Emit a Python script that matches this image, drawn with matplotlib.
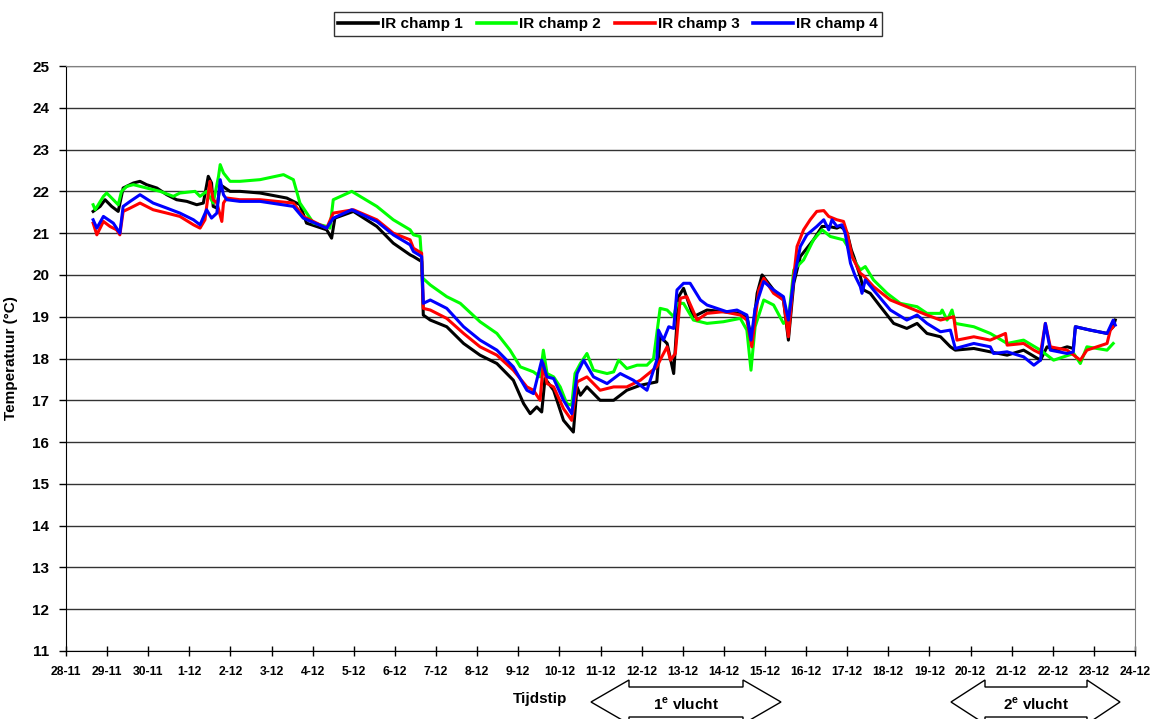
import numpy as np
import matplotlib
matplotlib.use('Agg')
import matplotlib.pyplot as plt
from matplotlib.patches import Polygon

plt.rcParams['font.family'] = ['Liberation Sans', 'DejaVu Sans']
plt.rcParams['font.weight'] = 'bold'
plt.rcParams['mathtext.fontset'] = 'custom'
plt.rcParams['mathtext.bf'] = 'Liberation Sans:bold'
plt.rcParams['mathtext.rm'] = 'Liberation Sans:bold'

# x = days after 28-11 00:00
day_labels = ['28-11', '29-11', '30-11', '1-12', '2-12', '3-12', '4-12', '5-12', '6-12',
              '7-12', '8-12', '9-12', '10-12', '11-12', '12-12', '13-12', '14-12', '15-12',
              '16-12', '17-12', '18-12', '19-12', '20-12', '21-12', '22-12', '23-12', '24-12']

# IR champ 1
t1 = [0.66, 0.83, 0.95, 1.11, 1.27, 1.39, 1.64, 1.80, 1.96, 2.21, 2.45, 2.69, 2.94, 3.18, 3.34,
      3.46, 3.54, 3.58, 3.67, 3.75, 3.99, 4.23, 4.72, 5.37, 5.69, 5.85, 6.34, 6.46, 6.54, 6.99,
      7.56, 7.96, 8.37, 8.45, 8.65, 8.69, 8.86, 9.26, 9.67, 10.07, 10.48, 10.88, 11.13, 11.29,
      11.45, 11.57, 11.65, 11.86, 12.10, 12.34, 12.43, 12.51, 12.67, 12.99, 13.32, 13.64, 13.97,
      14.37, 14.45, 14.62, 14.78, 14.90, 15.02, 15.26, 15.59, 15.99, 16.40, 16.56, 16.68, 16.81,
      16.93, 17.21, 17.45, 17.57, 17.70, 17.86, 18.18, 18.39, 18.55, 18.75, 18.83, 18.95, 19.00,
      19.10, 19.16, 19.32, 19.40, 19.56, 19.81, 20.13, 20.45, 20.70, 20.94, 21.27, 21.51, 21.63,
      22.08, 22.48, 22.89, 23.29, 23.70, 23.86, 24.10, 24.35, 24.50, 24.55, 24.91, 25.32, 25.47,
      25.52]
c1 = [21.52, 21.64, 21.80, 21.64, 21.52, 22.08, 22.20, 22.24, 22.16, 22.08, 21.92, 21.80, 21.76,
      21.68, 21.72, 22.36, 22.20, 21.64, 21.60, 22.16, 22.00, 22.00, 21.96, 21.84, 21.68, 21.24,
      21.08, 20.88, 21.36, 21.52, 21.16, 20.76, 20.48, 20.44, 20.32, 19.04, 18.92, 18.76, 18.36,
      18.08, 17.88, 17.48, 16.92, 16.68, 16.84, 16.72, 17.52, 17.24, 16.52, 16.24, 17.32, 17.12,
      17.32, 17.00, 17.00, 17.24, 17.36, 17.44, 18.52, 18.36, 17.64, 19.48, 19.68, 19.00, 19.16,
      19.12, 19.08, 19.00, 18.44, 19.56, 20.00, 19.64, 19.40, 18.44, 19.80, 20.44, 20.84, 21.16,
      21.16, 21.12, 21.16, 21.08, 21.00, 20.60, 20.44, 19.96, 19.64, 19.56, 19.24, 18.84, 18.72,
      18.84, 18.60, 18.52, 18.28, 18.20, 18.24, 18.16, 18.08, 18.20, 17.96, 18.28, 18.20, 18.28,
      18.24, 18.76, 18.68, 18.60, 18.76, 18.92]

# IR champ 2
t2 = [0.66, 0.71, 0.91, 0.99, 1.15, 1.27, 1.35, 1.48, 1.64, 1.96, 2.29, 2.61, 2.77, 3.14, 3.26,
      3.42, 3.58, 3.71, 3.75, 3.83, 3.99, 4.23, 4.72, 5.29, 5.53, 5.69, 6.02, 6.34, 6.42, 6.50,
      6.95, 7.56, 7.96, 8.37, 8.45, 8.61, 8.68, 8.86, 9.26, 9.59, 10.07, 10.48, 10.80, 11.05,
      11.37, 11.53, 11.61, 11.70, 11.86, 12.02, 12.18, 12.30, 12.38, 12.51, 12.67, 12.83, 13.16,
      13.32, 13.44, 13.64, 13.89, 14.13, 14.29, 14.45, 14.62, 14.78, 14.86, 15.02, 15.26, 15.59,
      15.99, 16.40, 16.56, 16.66, 16.76, 16.97, 17.21, 17.45, 17.57, 17.70, 17.94, 18.18, 18.39,
      18.59, 18.75, 18.91, 19.00, 19.16, 19.32, 19.44, 19.64, 19.97, 20.29, 20.70, 20.94, 21.27,
      21.31, 21.43, 21.55, 21.63, 22.08, 22.48, 22.89, 23.29, 23.70, 24.02, 24.51, 24.67, 24.83,
      25.32, 25.47]
c2 = [21.68, 21.56, 21.88, 21.96, 21.80, 21.68, 22.00, 22.12, 22.16, 22.08, 22.00, 21.88, 21.96,
      22.00, 21.88, 22.00, 21.72, 22.36, 22.64, 22.44, 22.24, 22.24, 22.28, 22.40, 22.28, 21.72,
      21.24, 21.16, 21.12, 21.80, 22.00, 21.64, 21.32, 21.08, 20.96, 20.92, 19.92, 19.76, 19.48,
      19.32, 18.88, 18.60, 18.20, 17.80, 17.68, 17.56, 18.20, 17.64, 17.56, 17.32, 16.92, 16.88,
      17.64, 17.88, 18.12, 17.72, 17.64, 17.68, 17.96, 17.76, 17.84, 17.84, 18.00, 19.20, 19.16,
      19.00, 19.32, 19.32, 18.92, 18.84, 18.88, 18.96, 18.68, 17.72, 18.76, 19.40, 19.28, 18.84,
      18.92, 20.12, 20.36, 20.84, 21.08, 20.92, 20.88, 20.84, 20.70, 20.36, 20.12, 20.20, 19.88,
      19.56, 19.32, 19.24, 19.08, 19.08, 19.16, 18.92, 19.16, 18.84, 18.76, 18.60, 18.36, 18.44,
      18.20, 17.96, 18.12, 17.88, 18.28, 18.20, 18.36]

# IR champ 3
t3 = [0.66, 0.75, 0.91, 1.07, 1.23, 1.31, 1.39, 1.56, 1.80, 2.12, 2.45, 2.77, 3.10, 3.26, 3.38,
      3.50, 3.58, 3.67, 3.79, 3.83, 3.91, 4.23, 4.72, 5.53, 5.77, 6.34, 6.50, 6.99, 7.56, 7.96,
      8.37, 8.45, 8.65, 8.69, 8.86, 9.26, 9.67, 10.07, 10.48, 10.88, 11.21, 11.37, 11.53, 11.61,
      11.70, 11.86, 12.10, 12.30, 12.43, 12.67, 12.99, 13.32, 13.64, 13.97, 14.37, 14.49, 14.62,
      14.70, 14.82, 14.94, 15.10, 15.35, 15.59, 15.99, 16.40, 16.56, 16.68, 16.85, 16.97, 17.21,
      17.45, 17.57, 17.70, 17.78, 17.94, 18.10, 18.26, 18.43, 18.55, 18.75, 18.91, 19.00, 19.12,
      19.32, 19.40, 19.64, 20.05, 20.45, 20.94, 21.27, 21.59, 21.67, 22.08, 22.48, 22.85, 22.89,
      23.29, 23.54, 23.70, 23.82, 23.94, 24.35, 24.67, 24.83, 25.32, 25.40, 25.47]
c3 = [21.24, 20.96, 21.28, 21.16, 21.08, 20.96, 21.52, 21.60, 21.72, 21.56, 21.48, 21.40, 21.20,
      21.12, 21.32, 22.24, 21.80, 21.72, 21.28, 21.72, 21.84, 21.80, 21.80, 21.72, 21.40, 21.12,
      21.48, 21.56, 21.32, 21.00, 20.84, 20.64, 20.52, 19.20, 19.16, 18.96, 18.60, 18.28, 18.08,
      17.72, 17.32, 17.24, 17.00, 17.88, 17.40, 17.32, 16.80, 16.52, 17.44, 17.56, 17.24, 17.32,
      17.32, 17.48, 17.80, 18.04, 18.28, 17.96, 18.12, 19.44, 19.48, 18.92, 19.08, 19.12, 19.04,
      18.92, 18.28, 19.64, 19.92, 19.56, 19.40, 18.52, 19.96, 20.68, 21.08, 21.32, 21.52, 21.54,
      21.40, 21.32, 21.28, 21.00, 20.44, 20.04, 19.98, 19.72, 19.40, 19.24, 19.04, 18.92, 19.00,
      18.44, 18.52, 18.44, 18.60, 18.32, 18.36, 18.20, 18.12, 18.84, 18.28, 18.20, 17.96, 18.20,
      18.36, 18.68, 18.76]

# IR champ 4
t4 = [0.66, 0.75, 0.91, 1.15, 1.31, 1.39, 1.56, 1.80, 2.12, 2.45, 2.77, 3.10, 3.26, 3.42, 3.54,
      3.67, 3.75, 3.83, 3.91, 4.23, 4.72, 5.53, 5.77, 6.34, 6.50, 6.95, 7.56, 7.96, 8.37, 8.45,
      8.65, 8.69, 8.86, 9.26, 9.67, 10.07, 10.48, 10.88, 11.21, 11.37, 11.57, 11.70, 11.86, 12.10,
      12.30, 12.43, 12.59, 12.83, 13.16, 13.48, 13.80, 14.13, 14.37, 14.41, 14.53, 14.66, 14.78,
      14.86, 15.02, 15.18, 15.43, 15.59, 16.07, 16.32, 16.56, 16.66, 16.76, 16.97, 17.21, 17.45,
      17.57, 17.70, 17.86, 18.02, 18.26, 18.43, 18.55, 18.63, 18.75, 18.87, 18.95, 19.08, 19.20,
      19.32, 19.36, 19.44, 19.64, 20.05, 20.45, 20.70, 20.94, 21.27, 21.51, 21.63, 22.08, 22.48,
      22.56, 22.89, 23.29, 23.54, 23.70, 23.82, 23.94, 24.35, 24.50, 24.55, 24.91, 25.32, 25.47,
      25.52]
c4 = [21.32, 21.12, 21.40, 21.24, 21.00, 21.64, 21.76, 21.92, 21.72, 21.60, 21.48, 21.32, 21.20,
      21.56, 21.36, 21.48, 22.28, 21.92, 21.80, 21.76, 21.76, 21.64, 21.36, 21.12, 21.36, 21.56,
      21.28, 20.96, 20.72, 20.56, 20.44, 19.32, 19.40, 19.20, 18.76, 18.44, 18.20, 17.80, 17.24,
      17.16, 17.96, 17.56, 17.52, 17.00, 16.68, 17.64, 17.96, 17.56, 17.40, 17.64, 17.48, 17.24,
      17.96, 18.68, 18.44, 18.76, 18.72, 19.64, 19.80, 19.80, 19.40, 19.28, 19.12, 19.16, 19.04,
      18.44, 19.20, 19.84, 19.64, 19.48, 18.92, 19.88, 20.68, 20.96, 21.16, 21.32, 21.08, 21.32,
      21.16, 21.20, 21.00, 20.28, 19.96, 19.72, 19.56, 19.88, 19.64, 19.16, 18.92, 19.04, 18.84,
      18.64, 18.68, 18.24, 18.36, 18.28, 18.12, 18.16, 18.04, 17.84, 17.96, 18.84, 18.20, 18.12,
      18.16, 18.76, 18.68, 18.60, 18.92, 18.80]

series = [('IR champ 1', t1, c1, '#000000'),
          ('IR champ 2', t2, c2, '#00ff00'),
          ('IR champ 3', t3, c3, '#ff0000'),
          ('IR champ 4', t4, c4, '#0000ff')]

W, H = 1156, 719
fig = plt.figure(figsize=(W / 100, H / 100), dpi=100)
ax = fig.add_axes([66 / W, 1 - 651 / H, (1135 - 66) / W, (651 - 66) / H])

for name, t, c, col in series:
    ax.plot(t, c, color=col, lw=2.2, label=name, solid_joinstyle='round')

ax.set_xlim(0, 26)
ax.set_ylim(11, 25)
ax.set_xticks(np.arange(len(day_labels)))
ax.set_xticklabels(day_labels, fontsize=8.7, fontweight='bold')
ax.set_yticks(np.arange(11, 26))
ax.tick_params(axis='y', labelsize=11, direction='out', length=5, width=1, pad=7)
ax.tick_params(axis='x', direction='inout', length=7, width=1, pad=7)
ax.grid(axis='y', color='#333333', lw=1)
ax.set_axisbelow(True)
for s in ['left', 'bottom']:
    ax.spines[s].set_color('black')
for s in ['top', 'right']:
    ax.spines[s].set_color('#808080')

ax.set_ylabel('Temperatuur (°C)', fontsize=11, fontweight='bold')
ax.yaxis.set_label_coords(-0.045, 0.5)
ax.set_xlabel('Tijdstip', fontsize=11, fontweight='bold')
ax.xaxis.set_label_coords((540 - 66) / (1135 - 66), (651 - 699) / (651 - 66))
ax.xaxis.label.set_va('center')

leg = fig.legend(loc='center', bbox_to_anchor=(608 / W, 1 - 24 / H), ncol=4, frameon=True,
                 fancybox=False, edgecolor='black', fontsize=11, handlelength=2.6,
                 handletextpad=0.2, columnspacing=0.9, borderpad=0.3, borderaxespad=0)
leg.get_frame().set_linewidth(1.0)
for txt in leg.get_texts():
    txt.set_fontweight('bold')
for ln in leg.get_lines():
    ln.set_linewidth(2.6)


def block_arrow(x0, x1, x2, x3, yc, label):
    pts = [(x0, yc), (x1, yc - 22), (x1, yc - 15), (x2, yc - 15), (x2, yc - 22), (x3, yc),
           (x2, yc + 22), (x2, yc + 15), (x1, yc + 15), (x1, yc + 22)]
    pts = [(px / W, 1 - py / H) for px, py in pts]
    fig.add_artist(Polygon(pts, closed=True, facecolor='white', edgecolor='black', lw=1,
                           transform=fig.transFigure))
    fig.text((x1 + x2) / 2 / W, 1 - (yc + 2) / H, label, ha='center', va='center',
             fontsize=11, fontweight='bold')


block_arrow(591, 629, 743, 781, 702, r'1$^{\mathbf{e}}$ vlucht')
block_arrow(951, 985, 1087, 1120, 702, r'2$^{\mathbf{e}}$ vlucht')

fig.savefig('out.png', dpi=100)
